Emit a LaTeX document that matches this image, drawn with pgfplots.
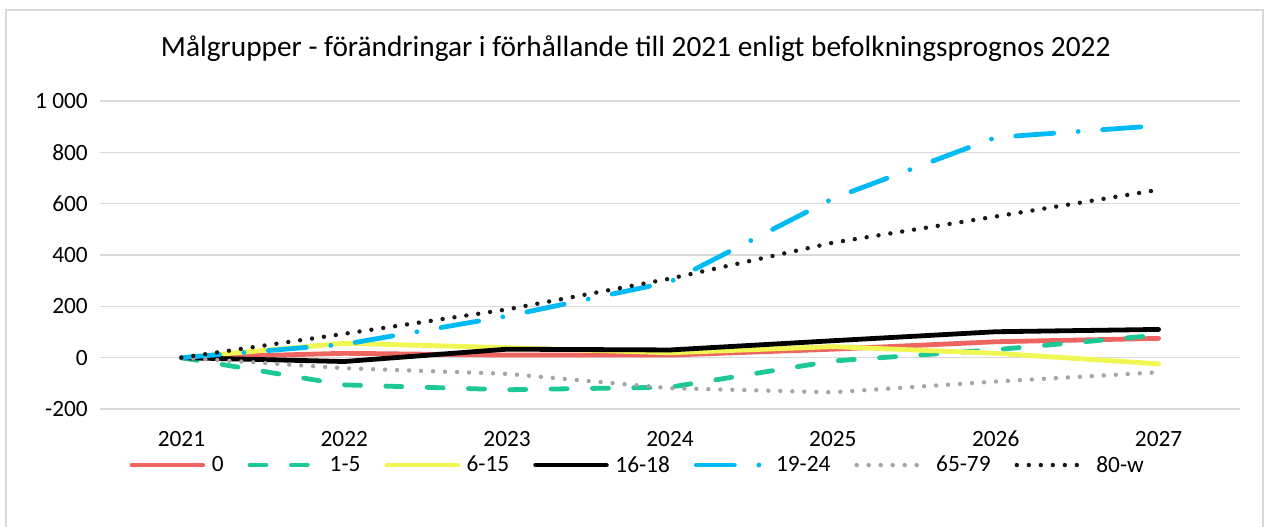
\documentclass[border=0pt]{standalone}
\usepackage{pgfplots}
\pgfplotsset{compat=1.18}
\usepackage{fontspec}
\setmainfont{Carlito}

\definecolor{cRed}{RGB}{237,100,97}
\definecolor{cGreen}{RGB}{27,200,150}
\definecolor{cYellow}{RGB}{240,246,82}
\definecolor{cBlue}{RGB}{0,186,245}
\definecolor{cGrey}{RGB}{165,165,165}
\definecolor{cDark}{RGB}{25,25,25}
\definecolor{cGrid}{RGB}{217,217,217}
\definecolor{cFrame}{RGB}{217,217,217}

\begin{document}
\begin{tikzpicture}
\useasboundingbox (-75pt,-88.5pt) rectangle (874.5pt,306.75pt);
\draw[cFrame, line width=1.2pt] (-70.5pt,-95pt) -- (-70.5pt,299.25pt) -- (872.25pt,299.25pt) -- (872.25pt,-95pt);
\begin{axis}[
  at={(0pt,0pt)}, anchor=south west,
  scale only axis,
  width=855pt, height=231pt,
  xmin=-0.5, xmax=6.5,
  ymin=-200, ymax=1000,
  xtick={0,1,2,3,4,5,6},
  xticklabels={2021,2022,2023,2024,2025,2026,2027},
  ytick={-200,0,200,400,600,800,1000},
  /pgf/number format/assume math mode=true,
  /pgf/number format/1000 sep={\ },
  ymajorgrids,
  major grid style={cGrid, line width=0.9pt},
  axis line style={draw=none},
  tick style={draw=none},
  ticklabel style={font=\fontsize{17.5}{20}\selectfont, inner sep=0pt},
  yticklabel style={anchor=east, xshift=-9pt},
  xticklabel style={anchor=center, yshift=-22.5pt},
  title={Målgrupper - förändringar i förhållande till 2021 enligt befolkningsprognos 2022},
  title style={at={(0.47,1)}, anchor=center, yshift=33pt, font=\fontsize{22}{26}\selectfont},
  legend style={at={(0.472,-0.182)}, anchor=center, draw=none, fill=none,
    font=\fontsize{17.5}{20}\selectfont, legend columns=-1,
    /tikz/every even column/.append style={column sep=16pt},
    /tikz/every odd column/.append style={column sep=3pt}},
  legend image code/.code={\draw[#1] (0pt,0pt) -- (53pt,0pt);},
  every axis plot/.append style={line width=3.6pt, line cap=round, line join=round},
]
\addplot[cRed] coordinates {(0,0) (1,17) (2,10) (3,10) (4,33) (5,62) (6,75)};
\addlegendentry{0}
\addplot[cGreen, dash pattern=on 12pt off 19pt] coordinates {(0,0) (1,-106) (2,-125) (3,-115) (4,-13) (5,31) (6,88)};
\addlegendentry{1-5}
\addplot[cYellow] coordinates {(0,0) (1,56) (2,39) (3,19) (4,43) (5,17) (6,-24)};
\addlegendentry{6-15}
\addplot[black] coordinates {(0,0) (1,-15) (2,33) (3,30) (4,66) (5,101) (6,110)};
\addlegendentry{16-18}
\addplot[cBlue, dash pattern=on 28.6pt off 18.4pt on 0pt off 18.4pt] coordinates {(0,0) (1,52) (2,162) (3,295) (4,620) (5,858) (6,904)};
\addlegendentry{19-24}
\addplot[cGrey, line width=3.3pt, dash pattern=on 0pt off 9pt] coordinates {(0,0) (1,-41) (2,-63) (3,-119) (4,-135) (5,-93) (6,-57)};
\addlegendentry{65-79}
\addplot[cDark, line width=3.3pt, dash pattern=on 0pt off 9pt] coordinates {(0,0) (1,93) (2,188) (3,308) (4,448) (5,550) (6,654)};
\addlegendentry{80-w}
\end{axis}
\end{tikzpicture}
\end{document}
